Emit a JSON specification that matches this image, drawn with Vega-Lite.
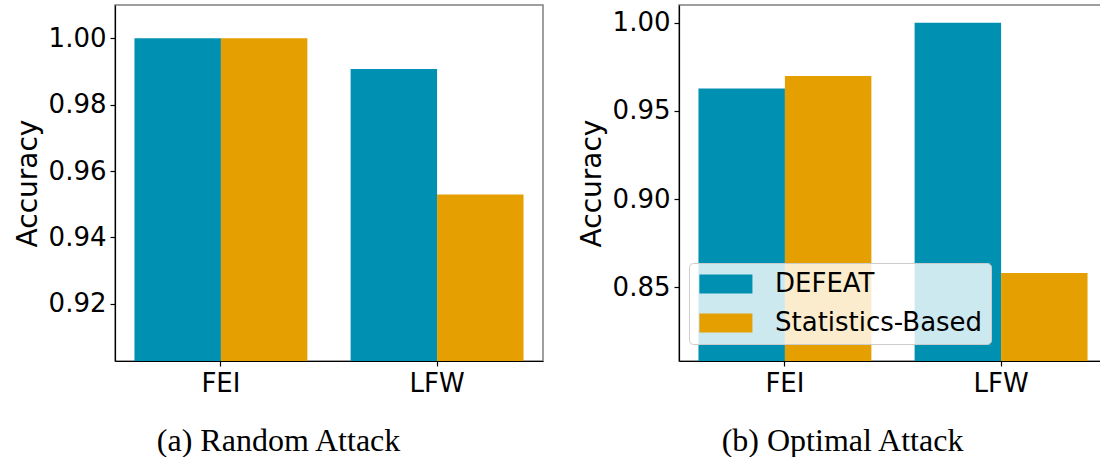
{
  "$schema": "https://vega.github.io/schema/vega-lite/v6.json",
  "padding": {"left": 13, "top": 4, "right": 0, "bottom": 0},
  "background": "white",
  "data": {"values": [
    {"panel": "Random", "dataset": "FEI", "method": "DEFEAT", "acc": 1.0},
    {"panel": "Random", "dataset": "FEI", "method": "Statistics-Based", "acc": 1.0},
    {"panel": "Random", "dataset": "LFW", "method": "DEFEAT", "acc": 0.9907},
    {"panel": "Random", "dataset": "LFW", "method": "Statistics-Based", "acc": 0.9529},
    {"panel": "Optimal", "dataset": "FEI", "method": "DEFEAT", "acc": 0.9626},
    {"panel": "Optimal", "dataset": "FEI", "method": "Statistics-Based", "acc": 0.9698},
    {"panel": "Optimal", "dataset": "LFW", "method": "DEFEAT", "acc": 1.0},
    {"panel": "Optimal", "dataset": "LFW", "method": "Statistics-Based", "acc": 0.8581}
  ]},
  "config": {
    "view": {"stroke": "#808080", "strokeWidth": 1.5},
    "axis": {
      "labelFont": "DejaVu Sans", "labelFontSize": 26, "labelColor": "black",
      "titleFont": "DejaVu Sans", "titleFontSize": 28, "titleFontWeight": "normal", "titleColor": "black",
      "domainColor": "black", "tickColor": "black", "tickSize": 5, "grid": false,
      "labelPadding": 4, "domainWidth": 1.2, "tickWidth": 1.2, "titlePadding": 6
    },
    "legend": {"labelFont": "DejaVu Sans", "labelFontSize": 26, "labelColor": "black", "labelLimit": 0},
    "title": {"font": "Liberation Serif", "fontSize": 32, "fontWeight": "normal", "color": "black"}
  },
  "spacing": 33,
  "resolve": {"scale": {"y": "independent", "color": "independent", "x": "independent"}, "legend": {"color": "independent"}},
  "hconcat": [
    {
      "width": 428, "height": 356,
      "title": {"text": "(a) Random Attack", "orient": "bottom", "frame": "bounds", "anchor": "middle", "offset": 30},
      "transform": [{"filter": "datum.panel == 'Random'"}],
      "mark": {"type": "bar"},
      "encoding": {
        "x": {"field": "dataset", "type": "nominal", "sort": ["FEI", "LFW"], "scale": {"paddingInner": 0.2, "paddingOuter": 0.09}, "axis": {"title": null, "labelAngle": 0}},
        "xOffset": {"field": "method", "type": "nominal", "sort": ["DEFEAT", "Statistics-Based"], "scale": {"paddingInner": 0, "paddingOuter": 0}},
        "y": {"field": "acc", "type": "quantitative", "scale": {"domain": [0.9028, 1.01], "zero": false, "nice": false, "clamp": true}, "axis": {"title": "Accuracy", "values": [0.92, 0.94, 0.96, 0.98, 1.0], "format": ".2f"}},
        "color": {"field": "method", "type": "nominal", "scale": {"domain": ["DEFEAT", "Statistics-Based"], "range": ["#0090b2", "#e69f00"]}, "legend": null}
      }
    },
    {
      "width": 428, "height": 356,
      "title": {"text": "(b) Optimal Attack", "orient": "bottom", "frame": "bounds", "anchor": "middle", "offset": 30},
      "transform": [{"filter": "datum.panel == 'Optimal'"}],
      "mark": {"type": "bar"},
      "encoding": {
        "x": {"field": "dataset", "type": "nominal", "sort": ["FEI", "LFW"], "scale": {"paddingInner": 0.2, "paddingOuter": 0.09}, "axis": {"title": null, "labelAngle": 0}},
        "xOffset": {"field": "method", "type": "nominal", "sort": ["DEFEAT", "Statistics-Based"], "scale": {"paddingInner": 0, "paddingOuter": 0}},
        "y": {"field": "acc", "type": "quantitative", "scale": {"domain": [0.8082, 1.01], "zero": false, "nice": false, "clamp": true}, "axis": {"title": "Accuracy", "values": [0.85, 0.9, 0.95, 1.0], "format": ".2f"}},
        "color": {"field": "method", "type": "nominal", "scale": {"domain": ["DEFEAT", "Statistics-Based"], "range": ["#0090b2", "#e69f00"]},
          "legend": {"orient": "none", "legendX": 10, "legendY": 258, "title": null,
            "symbolType": "M-1,-0.9H4V0.9H-1Z", "symbolSize": 450, "symbolStrokeWidth": 0, "symbolOpacity": 1,
            "fillColor": "rgba(255,255,255,0.8)", "strokeColor": "#cccccc", "cornerRadius": 4,
            "padding": 8, "rowPadding": 13, "labelOffset": 52}}
      }
    }
  ]
}
